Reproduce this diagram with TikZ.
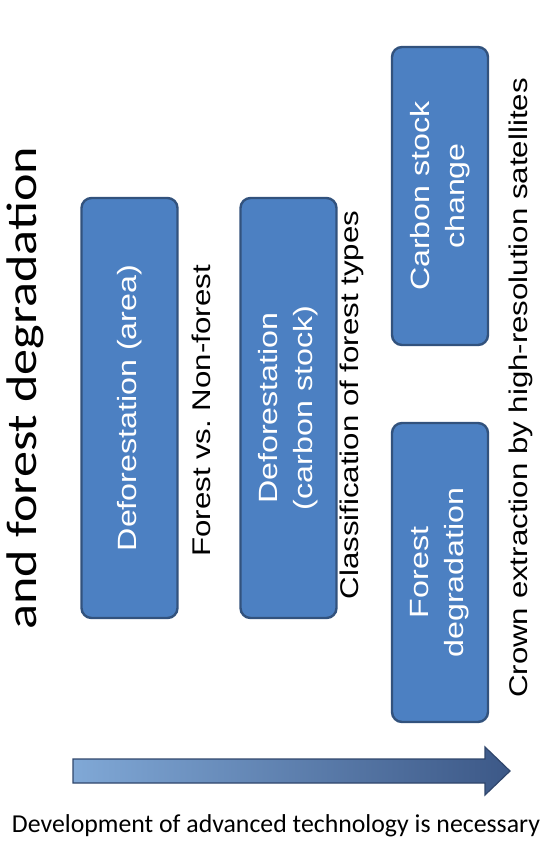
\documentclass[tikz,border=0pt]{standalone}
\usepackage{fontspec}
\setmainfont{Liberation Sans}
\newfontfamily\calibri{Carlito}
\usetikzlibrary{positioning}
\definecolor{boxblue}{RGB}{76,128,194}
\definecolor{boxedge}{RGB}{50,82,125}
\definecolor{arrowlight}{RGB}{128,168,214}
\definecolor{arrowdark}{RGB}{60,88,135}

\begin{document}
\begin{tikzpicture}[x=0.5pt, y=-0.5pt,
    box/.style={draw=boxedge, line width=1.2pt, fill=boxblue, rounded corners=5pt, minimum width=48pt, minimum height=#1, inner sep=0pt},
    boxtext/.style={text=white, font=\fontsize{13.2}{17.5}\selectfont, align=center, yscale=1.22, rotate=90},
    lbl/.style={font=\fontsize{12.8}{16}\selectfont, yscale=1.22, rotate=90}
]
\useasboundingbox (0,0) rectangle (552,843);

% title
\node[font=\calibri\fontsize{21.4}{24}\selectfont, yscale=1.22, rotate=90] (title) at (25,388) {and forest degradation};

% boxes
\node[box=210pt] (defarea) at (129.5,408) {};
\node[boxtext] (defareatxt) at (defarea) {Deforestation (area)};
\node[lbl] (fnf) at (201,411) {Forest vs.\ Non-forest};

\node[box=210pt] (defcarbon) at (288.5,408) {};
\node[boxtext] (defcarbontxt) at (defcarbon) {Deforestation\\(carbon stock)};
\node[lbl] (classif) at (352,405) {Classification of forest types};

\node[box=149pt] (carbon) at (440,196) {};
\node[boxtext] (carbontxt) at (carbon) {Carbon stock\\change};
\node[box=149.5pt] (degrad) at (440,572.5) {};
\node[boxtext] (degradtxt) at (degrad) {Forest\\degradation};
\node[lbl] (crown) at (521,388) {Crown extraction by high-resolution satellites};

% technology arrow
\shade[left color=arrowlight, right color=arrowdark, draw=arrowdark!80!black, line width=0.6pt]
  (73,759) -- (485,759) -- (485,747) -- (510,771) -- (485,795) -- (485,783) -- (73,783) -- cycle;
\node[font=\calibri\fontsize{12.9}{15}\selectfont] (tech) at (276,826) {Development of advanced technology is necessary};
\end{tikzpicture}
\end{document}
